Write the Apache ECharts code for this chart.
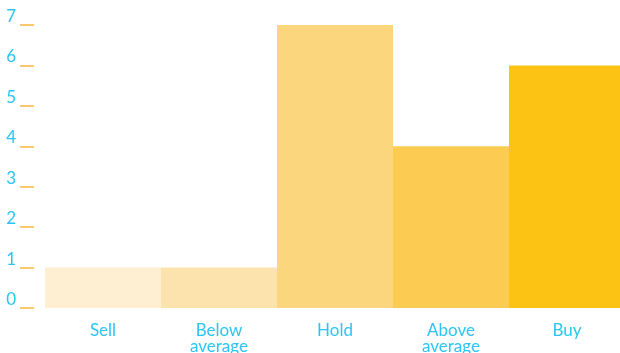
<!DOCTYPE html>
<html>
<head>
<meta charset="utf-8">
<script src="https://cdn.jsdelivr.net/npm/echarts@6/dist/echarts.min.js"></script>
<style>
  html, body { margin: 0; padding: 0; background: #fff; }
  #chart { width: 620px; height: 353px; }
</style>
</head>
<body>
<div id="chart"></div>
<script>
const categories = ['Sell', 'Below\naverage', 'Hold', 'Above\naverage', 'Buy']
const ratings = [1, 1, 7, 4, 6]
const barColors = ['#FEEFD3', '#FCE3AE', '#FCD67D', '#FCCB52', '#FCC314']

const chart = echarts.init(document.getElementById('chart'))
const labelColor = '#2CC4F2'

const option = {
  animation: false,
  grid: { left: 45, right: -5, top: 25, bottom: 45, outerBoundsMode: 'none', containLabel: false },
  xAxis: {
    type: 'category',
    data: categories,
    axisLine: { show: false },
    axisTick: { show: false },
    axisLabel: {
      color: labelColor,
      fontFamily: 'Lato',
      fontSize: 17,
      lineHeight: 16,
      margin: 15
    }
  },
  yAxis: {
    type: 'value',
    min: 0,
    max: 7,
    interval: 1,
    offset: 11,
    splitLine: { show: false },
    axisLine: { show: false },
    axisTick: {
      show: true,
      length: 14,
      lineStyle: { color: '#F9B640', width: 1.5 }
    },
    axisLabel: {
      color: labelColor,
      fontFamily: 'Lato',
      fontSize: 17,
      margin: 18,
      verticalAlign: 'bottom'
    }
  },
  series: [
    {
      type: 'bar',
      barCategoryGap: 0,
      data: ratings.map((v, i) => ({ value: v, itemStyle: { color: barColors[i] } }))
    }
  ]
}
chart.setOption(option)
</script>
</body>
</html>
